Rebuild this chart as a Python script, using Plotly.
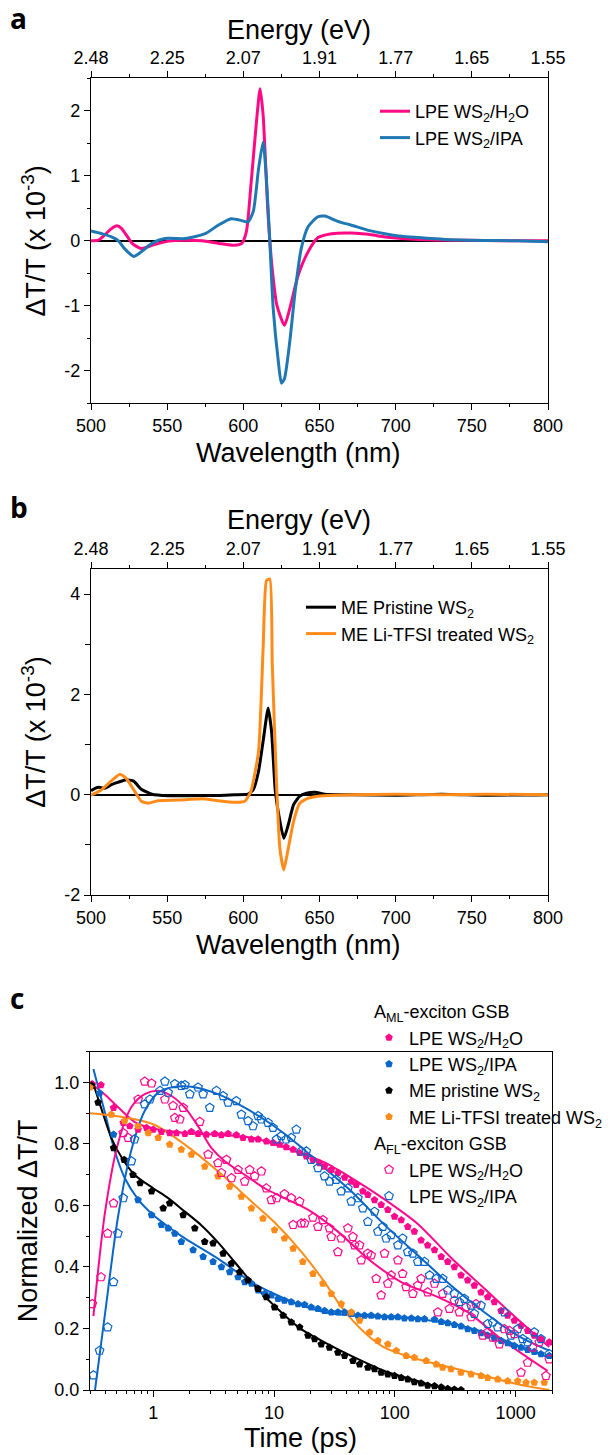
import plotly.graph_objects as go

# ---------------- Panel a data ----------------
wl_a_h2o = [500, 505, 509, 513, 517, 520, 524, 527, 533, 540, 551, 562, 573, 584, 594, 599, 602, 605,
            609, 611, 613, 616, 618.5, 622, 627, 630.5, 636, 642.5, 649, 658, 671, 682, 693, 704, 715,
            737, 758, 780, 800]
h2o_a = [0.0, 0.01, 0.09, 0.18, 0.23, 0.19, 0.06, -0.04, -0.12, -0.07, -0.005, 0.01, 0.0, -0.04, -0.07,
         -0.04, 0.14, 0.86, 1.93, 2.34, 1.93, 0.5, -0.32, -0.99, -1.30, -1.04, -0.53, -0.17, 0.05, 0.11,
         0.12, 0.10, 0.06, 0.035, 0.02, 0.01, 0.005, 0.0, 0.0]
wl_a_ipa = [500, 507, 513.5, 518, 522, 528, 533, 540, 548.5, 562, 575, 583.5, 592, 599, 603, 606.5, 610,
            613, 615, 617.4, 619.6, 623, 625, 627, 630.5, 634, 638, 642.6, 649, 653.5, 662, 671, 682,
            693, 704, 715, 726, 737, 758, 780, 800]
ipa_a = [0.15, 0.11, 0.06, 0.0, -0.12, -0.24, -0.17, -0.04, 0.035, 0.035, 0.11, 0.24, 0.34, 0.31, 0.29,
         0.45, 1.11, 1.52, 1.01, -0.015, -1.04, -1.86, -2.19, -2.12, -1.55, -0.78, -0.12, 0.22, 0.37,
         0.38, 0.30, 0.24, 0.16, 0.11, 0.07, 0.05, 0.03, 0.015, 0.005, 0.0, -0.015]

# ---------------- Panel b data ----------------
wl_b_pr = [500, 503, 505, 509, 513.5, 518, 523, 528, 533, 540, 551, 562, 583.5, 594, 603, 606.5, 610,
           613, 616.3, 618.5, 621, 624, 626.6, 629.5, 633, 637, 641.5, 647, 653.5, 671, 700, 730, 760, 800]
pr_b = [0.08, 0.13, 0.15, 0.13, 0.2, 0.25, 0.30, 0.27, 0.11, 0.01, -0.02, -0.02, -0.015, 0.0, 0.01, 0.10,
        0.47, 1.07, 1.73, 1.27, 0.07, -0.53, -0.87, -0.6, -0.2, -0.03, 0.03, 0.05, 0.01, 0.0, -0.01,
        0.01, -0.01, 0.0]
wl_b_li = [500, 507, 513.5, 519, 523, 528, 533, 537.6, 544, 562, 573, 583.5, 594.5, 601, 605, 610, 613,
           615.2, 617.4, 619, 622, 624, 626.6, 629.5, 633, 637, 642.6, 649, 660, 671, 700, 730, 760, 800]
li_b = [-0.01, 0.10, 0.28, 0.41, 0.33, 0.10, -0.13, -0.17, -0.12, -0.10, -0.08, -0.12, -0.15, -0.13,
        0.07, 0.87, 2.93, 4.27, 4.30, 2.6, 0.07, -1.07, -1.5, -1.07, -0.53, -0.17, -0.07, -0.03, -0.01,
        0.0, 0.01, 0.0, 0.01, 0.0]

# ---------------- Axis ticks ----------------
wl_ticks = [500, 550, 600, 650, 700, 750, 800]
energy_labels = ["2.48", "2.25", "2.07", "1.91", "1.77", "1.65", "1.55"]
ya_ticks = [-2, -1, 0, 1, 2]
ya_labels = ["-2", "-1", "0", "1", "2"]
yb_ticks = [-2, 0, 2, 4]
yb_labels = ["-2", "0", "2", "4"]
tc_ticks = [1, 10, 100, 1000]
tc_labels = ["1", "10", "100", "1000"]
tc_minor = [0.3, 0.4, 0.5, 0.6, 0.7, 0.8, 0.9, 2, 3, 4, 5, 6, 7, 8, 9, 20, 30, 40, 50, 60, 70, 80, 90,
            200, 300, 400, 500, 600, 700, 800, 900, 2000]

# ---------------- Panel c data: A_ML (filled) ----------------
t_ml_h2o = [0.313, 0.37, 0.47, 0.565, 0.64, 0.75, 0.88, 1.0, 1.17, 1.37, 1.56, 1.83, 2.07, 2.35, 2.76,
            3.23, 3.67, 4.17, 4.88, 5.54, 6.5, 7.38, 8.64, 9.81, 11.1, 12.6, 14.4, 16.3, 18.5, 21.0,
            23.8, 26.2, 29.8, 33.8, 38.4, 43.6, 47.9, 54.4, 59.8, 67.9, 77.1, 87.5, 99.4, 113, 128, 145,
            165, 187, 213, 242, 274, 311, 353, 401, 455, 517, 587, 666, 757, 859, 975, 1107, 1257, 1426,
            1620, 1898]
v_ml_h2o = [0.995, 0.992, 0.918, 0.869, 0.858, 0.847, 0.853, 0.847, 0.84, 0.836, 0.836, 0.833, 0.84,
            0.833, 0.831, 0.833, 0.829, 0.833, 0.829, 0.82, 0.815, 0.815, 0.809, 0.804, 0.798, 0.79,
            0.782, 0.771, 0.76, 0.749, 0.738, 0.727, 0.716, 0.706, 0.691, 0.678, 0.667, 0.646, 0.635,
            0.618, 0.602, 0.586, 0.564, 0.553, 0.531, 0.515, 0.487, 0.471, 0.455, 0.433, 0.417, 0.40,
            0.373, 0.357, 0.34, 0.318, 0.302, 0.286, 0.258, 0.242, 0.226, 0.209, 0.193, 0.177, 0.166,
            0.155]
t_ml_ipa = [0.36, 0.47, 0.75, 0.97, 1.17, 1.33, 1.51, 1.71, 2.14, 2.59, 3.13, 3.67, 4.30, 5.04, 5.72,
            6.5, 7.38, 8.37, 9.51, 10.8, 12.2, 13.9, 15.8, 17.9, 20.3, 23.1, 26.2, 29.8, 33.8, 38.4,
            43.6, 49.5, 56.1, 63.7, 72.4, 82.2, 93.3, 106, 120, 137, 155, 176, 213, 242, 274, 311, 353,
            401, 455, 517, 587, 666, 757, 859, 975, 1107, 1257, 1426, 1620, 1898]
v_ml_ipa = [0.965, 0.831, 0.618, 0.569, 0.537, 0.526, 0.509, 0.482, 0.455, 0.433, 0.417, 0.40, 0.384,
            0.367, 0.351, 0.346, 0.324, 0.313, 0.308, 0.297, 0.291, 0.286, 0.28, 0.277, 0.269, 0.264,
            0.258, 0.253, 0.253, 0.253, 0.248, 0.242, 0.242, 0.242, 0.24, 0.237, 0.237, 0.237, 0.233,
            0.233, 0.231, 0.231, 0.229, 0.222, 0.218, 0.212, 0.207, 0.198, 0.193, 0.185, 0.177, 0.168,
            0.16, 0.153, 0.144, 0.138, 0.131, 0.124, 0.117, 0.111]
t_ml_pr = [0.31, 0.35, 0.47, 0.575, 0.68, 0.78, 0.97, 1.21, 1.37, 1.77, 2.21, 2.67, 3.13, 3.79, 4.44, 5.2,
           6.1, 7.38, 8.64, 10.1, 11.9, 13.9, 16.3, 19.1, 21.7, 24.6, 28.8, 33.8, 38.4, 45, 51.1, 59.8,
           67.9, 77.1, 87.5, 99.4, 113, 128, 145, 165, 187, 213, 242, 274, 311, 353]
v_ml_pr = [0.99, 0.935, 0.787, 0.749, 0.70, 0.673, 0.646, 0.591, 0.607, 0.569, 0.526, 0.482, 0.477, 0.444,
           0.411, 0.384, 0.357, 0.329, 0.302, 0.269, 0.242, 0.22, 0.204, 0.177, 0.166, 0.149, 0.138,
           0.122, 0.111, 0.095, 0.084, 0.073, 0.068, 0.057, 0.051, 0.046, 0.04, 0.035, 0.026, 0.022,
           0.015, 0.013, 0.009, 0.004, 0.002, 0.0]
t_ml_li = [0.30, 0.45, 0.58, 0.75, 0.91, 1.10, 1.37, 1.71, 2.07, 2.67, 3.44, 4.30, 5.37, 6.5, 8.1, 10.1,
           12.2, 14.4, 17.3, 21.0, 25.4, 29.8, 36.0, 43.6, 51.1, 61.8, 72.4, 87.5, 103, 124, 145, 182,
           220, 249, 292, 353, 428, 517, 587, 710, 859, 1040, 1220, 1426, 1726]
v_ml_li = [0.984, 0.896, 0.875, 0.858, 0.836, 0.82, 0.798, 0.782, 0.766, 0.727, 0.695, 0.662, 0.629,
           0.591, 0.558, 0.52, 0.493, 0.46, 0.417, 0.378, 0.346, 0.313, 0.28, 0.253, 0.226, 0.188, 0.16,
           0.149, 0.128, 0.111, 0.106, 0.095, 0.084, 0.073, 0.068, 0.057, 0.051, 0.046, 0.04, 0.035,
           0.029, 0.029, 0.024, 0.024, 0.024]

# ---------------- Panel c data: A_FL (open) ----------------
t_fl_h2o = [0.313, 0.37, 0.42, 0.47, 0.565, 0.62, 0.75, 0.85, 0.97, 1.25, 1.46, 1.51, 1.66, 1.77, 2.43,
            2.85, 3.44, 3.67, 4.04, 4.44, 5.04, 5.72, 6.29, 6.92, 7.86, 8.64, 9.51, 10.5, 12.2, 13.9,
            16.3, 14.4, 16.8, 17.9, 21.0, 23.1, 25.4, 28.8, 29.8, 33.8, 36.0, 40.9, 45.0, 46.4, 51.1,
            52.7, 59.8, 63.7, 70.1, 77.1, 82.2, 87.5, 93.3, 106, 116, 124, 141, 155, 165, 187, 213, 227,
            249, 283, 311, 342, 389, 428, 470, 534, 587, 646, 733, 806, 887, 975, 1107, 1257, 1382, 1569,
            1782, 1898]
v_fl_h2o = [0.28, 0.367, 0.509, 0.607, 0.836, 0.82, 0.945, 1.003, 0.997, 0.945, 0.924, 0.885, 0.88,
            0.918, 0.872, 0.766, 0.738, 0.706, 0.749, 0.689, 0.716, 0.678, 0.716, 0.695, 0.711, 0.656,
            0.618, 0.624, 0.637, 0.624, 0.613, 0.537, 0.542, 0.542, 0.561, 0.531, 0.553, 0.526, 0.498,
            0.449, 0.493, 0.526, 0.498, 0.471, 0.471, 0.422, 0.444, 0.438, 0.362, 0.308, 0.444, 0.346,
            0.373, 0.422, 0.378, 0.335, 0.313, 0.34, 0.362, 0.318, 0.346, 0.253, 0.313, 0.264, 0.291,
            0.253, 0.269, 0.237, 0.28, 0.177, 0.188, 0.171, 0.149, 0.198, 0.193, 0.182, 0.057, 0.089,
            0.138, 0.155, 0.046, 0.10]
t_fl_ipa = [0.32, 0.36, 0.42, 0.47, 0.51, 0.565, 0.66, 0.70, 0.85, 0.94, 1.14, 1.25, 1.33, 1.51, 1.71,
            1.83, 2.01, 2.35, 2.59, 2.94, 3.34, 3.79, 4.17, 4.88, 5.37, 6.1, 6.7, 7.38, 7.86, 8.92, 9.81,
            10.5, 11.5, 12.6, 13.9, 15.3, 16.8, 18.5, 20.3, 23.1, 26.2, 28.8, 32.7, 36.0, 40.9, 43.6,
            49.5, 54.4, 59.8, 67.9, 72.4, 79.6, 84.8, 93.3, 106, 116, 128, 141, 155, 176, 194, 220, 249,
            274, 311, 342, 376, 428, 455, 517, 587, 646, 710, 806, 915, 1040, 1143, 1257, 1426, 1620, 1898]
v_fl_ipa = [0.048, 0.128, 0.204, 0.351, 0.509, 0.624, 0.744, 0.815, 0.929, 0.945, 0.973, 1.003, 0.967,
            0.995, 0.989, 0.992, 0.962, 0.984, 0.962, 0.918, 0.973, 0.956, 0.935, 0.94, 0.896, 0.875,
            0.858, 0.891, 0.88, 0.869, 0.853, 0.815, 0.826, 0.815, 0.82, 0.847, 0.776, 0.776, 0.749,
            0.722, 0.695, 0.678, 0.684, 0.646, 0.656, 0.613, 0.624, 0.591, 0.547, 0.58, 0.515, 0.531,
            0.493, 0.504, 0.471, 0.493, 0.449, 0.444, 0.417, 0.417, 0.373, 0.362, 0.362, 0.324, 0.313,
            0.286, 0.297, 0.275, 0.248, 0.275, 0.215, 0.22, 0.204, 0.253, 0.177, 0.198, 0.166, 0.155,
            0.188, 0.166, 0.117]

# ---------------- Panel c fits ----------------
tf_ml_h2o = [0.31, 0.40, 0.51, 0.71, 1.0, 1.83, 3.44, 6.5, 10, 16.8, 26.2, 43.6, 82.2, 155, 292, 551,
             1040, 1898]
vf_ml_h2o = [0.995, 0.96, 0.92, 0.87, 0.85, 0.836, 0.83, 0.82, 0.80, 0.77, 0.74, 0.69, 0.62, 0.54, 0.43,
             0.33, 0.23, 0.14]
tf_ml_ipa = [0.32, 0.40, 0.47, 0.58, 0.75, 1.0, 1.33, 1.83, 3.44, 6.5, 10, 16.8, 26.2, 43.6, 82.2, 155,
             292, 551, 1040, 1898]
vf_ml_ipa = [1.044, 0.90, 0.79, 0.69, 0.62, 0.569, 0.531, 0.493, 0.427, 0.351, 0.313, 0.275, 0.253, 0.242,
             0.237, 0.231, 0.215, 0.188, 0.144, 0.106]
tf_ml_pr = [0.32, 0.37, 0.45, 0.55, 0.70, 1.0, 1.33, 1.83, 2.5, 3.44, 4.7, 6.5, 10, 16.8, 26.2, 43.6,
            82.2, 155, 213, 292, 353]
vf_ml_pr = [0.995, 0.918, 0.82, 0.755, 0.70, 0.656, 0.624, 0.58, 0.536, 0.48, 0.417, 0.351, 0.275, 0.198,
            0.155, 0.111, 0.062, 0.029, 0.013, 0.002, 0.0]
tf_ml_li = [0.30, 0.51, 1.0, 1.83, 3.44, 6.5, 10, 16.8, 26.2, 33.8, 43.6, 59.8, 82.2, 155, 292, 551, 1040,
            1898]
vf_ml_li = [0.90, 0.89, 0.864, 0.798, 0.711, 0.613, 0.547, 0.45, 0.351, 0.286, 0.231, 0.177, 0.138, 0.10,
            0.073, 0.046, 0.019, 0.0]
tf_fl_h2o = [0.32, 0.40, 0.51, 0.66, 0.85, 1.10, 1.42, 1.83, 2.35, 3.03, 3.91, 5.72, 8.37, 12.2, 20.3,
             33.8, 59.8, 113, 213, 401, 757, 1838]
vf_fl_h2o = [0.24, 0.58, 0.80, 0.92, 0.962, 0.973, 0.956, 0.918, 0.858, 0.787, 0.744, 0.70, 0.656, 0.624,
             0.58, 0.515, 0.427, 0.351, 0.307, 0.253, 0.166, 0.062]
tf_fl_ipa = [0.33, 0.40, 0.51, 0.66, 0.85, 1.10, 1.42, 2.07, 3.44, 5.72, 9.51, 15.8, 26.2, 43.6, 82.2, 155,
             292, 551, 1040, 1898]
vf_fl_ipa = [0.0, 0.25, 0.56, 0.78, 0.907, 0.967, 0.984, 0.986, 0.962, 0.918, 0.864, 0.798, 0.722, 0.646,
             0.537, 0.438, 0.34, 0.253, 0.177, 0.128]

# ---------------- Styles ----------------
PINK_A = "#FF0A84"
BLUE_A = "#1F77B4"
PINK_C = "#FF0A8C"
BLUE_C = "#0A66C8"
ORANGE = "#FF8C1A"
BLACK = "#000000"
FONT = "Arial, Liberation Sans, sans-serif"
TICKF = dict(family=FONT, size=18, color="black")
TITLEF = dict(family=FONT, size=27, color="black")
LEGF = dict(family=FONT, size=18, color="black")

W, H = 616, 1455
def px_x(p):
    return p / W
def px_y(p):
    return 1 - p / H

fig = go.Figure()

# Panel a
fig.add_trace(go.Scatter(x=wl_a_h2o, y=h2o_a, mode="lines", line=dict(color=PINK_A, width=3, shape="spline", smoothing=0.6),
                         name="LPE WS<sub>2</sub>/H<sub>2</sub>O", xaxis="x", yaxis="y", legend="legend"))
fig.add_trace(go.Scatter(x=wl_a_ipa, y=ipa_a, mode="lines", line=dict(color=BLUE_A, width=3, shape="spline", smoothing=0.6),
                         name="LPE WS<sub>2</sub>/IPA", xaxis="x", yaxis="y", legend="legend"))
fig.add_trace(go.Scatter(x=[], y=[], xaxis="x2", yaxis="y", showlegend=False))

# Panel b
fig.add_trace(go.Scatter(x=wl_b_pr, y=pr_b, mode="lines", line=dict(color=BLACK, width=3, shape="spline", smoothing=0.5),
                         name="ME Pristine WS<sub>2</sub>", xaxis="x3", yaxis="y2", legend="legend2"))
fig.add_trace(go.Scatter(x=wl_b_li, y=li_b, mode="lines", line=dict(color=ORANGE, width=3, shape="spline", smoothing=0.5),
                         name="ME Li-TFSI treated WS<sub>2</sub>", xaxis="x3", yaxis="y2", legend="legend2"))
fig.add_trace(go.Scatter(x=[], y=[], xaxis="x4", yaxis="y2", showlegend=False))

# Panel c fits
for tt, vv, col in [(tf_ml_h2o, vf_ml_h2o, PINK_C), (tf_ml_ipa, vf_ml_ipa, BLUE_C), (tf_ml_pr, vf_ml_pr, BLACK),
                    (tf_ml_li, vf_ml_li, ORANGE), (tf_fl_h2o, vf_fl_h2o, PINK_C), (tf_fl_ipa, vf_fl_ipa, BLUE_C)]:
    fig.add_trace(go.Scatter(x=tt, y=vv, mode="lines", line=dict(color=col, width=2, shape="spline", smoothing=0.8),
                             showlegend=False, xaxis="x5", yaxis="y3"))

ml_title = "A<sub>ML</sub>-exciton GSB"
fl_title = "A<sub>FL</sub>-exciton GSB"
for tt, vv, col, nm in [(t_ml_h2o, v_ml_h2o, PINK_C, "LPE WS<sub>2</sub>/H<sub>2</sub>O"),
                        (t_ml_ipa, v_ml_ipa, BLUE_C, "LPE WS<sub>2</sub>/IPA"),
                        (t_ml_pr, v_ml_pr, BLACK, "ME pristine WS<sub>2</sub>"),
                        (t_ml_li, v_ml_li, ORANGE, "ME Li-TFSI treated WS<sub>2</sub>")]:
    fig.add_trace(go.Scatter(x=tt, y=vv, mode="markers", marker=dict(symbol="pentagon", size=8, color=col),
                             name=nm, legendgroup="ml", legendgrouptitle=dict(text=ml_title, font=LEGF),
                             xaxis="x5", yaxis="y3", legend="legend3"))
for tt, vv, col, nm in [(t_fl_h2o, v_fl_h2o, PINK_C, "LPE WS<sub>2</sub>/H<sub>2</sub>O"),
                        (t_fl_ipa, v_fl_ipa, BLUE_C, "LPE WS<sub>2</sub>/IPA")]:
    fig.add_trace(go.Scatter(x=tt, y=vv, mode="markers",
                             marker=dict(symbol="pentagon-open", size=9, color=col, line=dict(width=1.2)),
                             name=nm, legendgroup="fl", legendgrouptitle=dict(text=fl_title, font=LEGF),
                             xaxis="x5", yaxis="y3", legend="legend3"))

axis_common = dict(showline=True, linecolor="black", linewidth=1.3, ticks="outside", ticklen=6, tickwidth=1.2,
                   tickcolor="black", tickfont=TICKF, showgrid=False, zeroline=False, automargin=False)

dom_x_ab = [px_x(91), px_x(548)]
dom_x_c = [px_x(90), px_x(552)]
dom_y_a = [px_y(403.3), px_y(78.3)]
dom_y_b = [px_y(895), px_y(569)]
dom_y_c = [px_y(1390), px_y(1051.7)]

minor_wl = dict(ticks="outside", ticklen=3, tickwidth=1.2, tickcolor="black", dtick=25, tick0=500)

def title_ann(text, cx, cy):
    return dict(text=text, x=px_x(cx), y=px_y(cy), xref="paper", yref="paper", xanchor="center",
                yanchor="middle", showarrow=False, font=TITLEF)

def letter_ann(text, cy):
    return dict(text="<b>%s</b>" % text, x=px_x(8), y=px_y(cy), xref="paper", yref="paper", xanchor="left",
                yanchor="middle", showarrow=False, font=dict(family="Open Sans, sans-serif", size=28, color="black"))

fig.update_layout(
    width=W, height=H, margin=dict(l=0, r=0, t=0, b=0, autoexpand=False),
    paper_bgcolor="white", plot_bgcolor="white",
    font=dict(family=FONT, color="black", size=18),
    xaxis=dict(**axis_common, domain=dom_x_ab, anchor="y", range=[500, 800], tickvals=wl_ticks, minor=minor_wl),
    xaxis2=dict(**axis_common, domain=dom_x_ab, anchor="y", overlaying="x", side="top", range=[500, 800],
                tickvals=wl_ticks, ticktext=energy_labels, minor=minor_wl),
    yaxis=dict(**{**axis_common, "zeroline": True}, zerolinecolor="black", zerolinewidth=1.5,
               domain=dom_y_a, anchor="x", range=[-2.5, 2.5], tickvals=ya_ticks, ticktext=ya_labels, mirror=True,
               minor=dict(ticks="outside", ticklen=3, tickwidth=1.2, tickcolor="black", dtick=0.5, tick0=0),
               title=dict(text="ΔT/T (x 10<sup>-3</sup>)", font=TITLEF, standoff=10)),
    xaxis3=dict(**axis_common, domain=dom_x_ab, anchor="y2", range=[500, 800], tickvals=wl_ticks, minor=minor_wl),
    xaxis4=dict(**axis_common, domain=dom_x_ab, anchor="y2", overlaying="x3", side="top", range=[500, 800],
                tickvals=wl_ticks, ticktext=energy_labels, minor=minor_wl),
    yaxis2=dict(**{**axis_common, "zeroline": True}, zerolinecolor="black", zerolinewidth=1.5,
                domain=dom_y_b, anchor="x3", range=[-2, 4.5], tickvals=yb_ticks, ticktext=yb_labels, mirror=True,
                minor=dict(ticks="outside", ticklen=5, tickwidth=1.2, tickcolor="black", dtick=1, tick0=0),
                title=dict(text="ΔT/T (x 10<sup>-3</sup>)", font=TITLEF, standoff=10)),
    xaxis5=dict(**axis_common, domain=dom_x_c, anchor="y3", type="log", range=[-0.523, 3.301],
                tickvals=tc_ticks, ticktext=tc_labels, mirror=True,
                minor=dict(ticks="outside", ticklen=3, tickwidth=1.2, tickcolor="black", tickvals=tc_minor)),
    yaxis3=dict(**axis_common, domain=dom_y_c, anchor="x5", range=[0, 1.1], dtick=0.2, tick0=0,
                tickformat=".1f", mirror=True,
                minor=dict(ticks="outside", ticklen=3, tickwidth=1.2, tickcolor="black", dtick=0.1, tick0=0),
                title=dict(text="Normalized ΔT/T", font=TITLEF, standoff=8)),
    legend=dict(x=px_x(375), y=px_y(93), xanchor="left", yanchor="top", bgcolor="rgba(0,0,0,0)",
                font=LEGF, tracegroupgap=0),
    legend2=dict(x=px_x(301), y=px_y(589), xanchor="left", yanchor="top", bgcolor="rgba(0,0,0,0)",
                 font=LEGF, tracegroupgap=0),
    legend3=dict(x=px_x(369), y=px_y(993), xanchor="left", yanchor="top", bgcolor="rgba(0,0,0,0)",
                 font=LEGF, tracegroupgap=0, traceorder="grouped", grouptitlefont=LEGF),
    annotations=[
        letter_ann("a", 18), letter_ann("b", 507), letter_ann("c", 998),
        title_ann("Energy (eV)", 299, 30), title_ann("Wavelength (nm)", 298, 453),
        title_ann("Energy (eV)", 299, 520), title_ann("Wavelength (nm)", 298, 945),
        title_ann("Time (ps)", 300, 1438),
    ],
)

fig.write_html("out.html")
